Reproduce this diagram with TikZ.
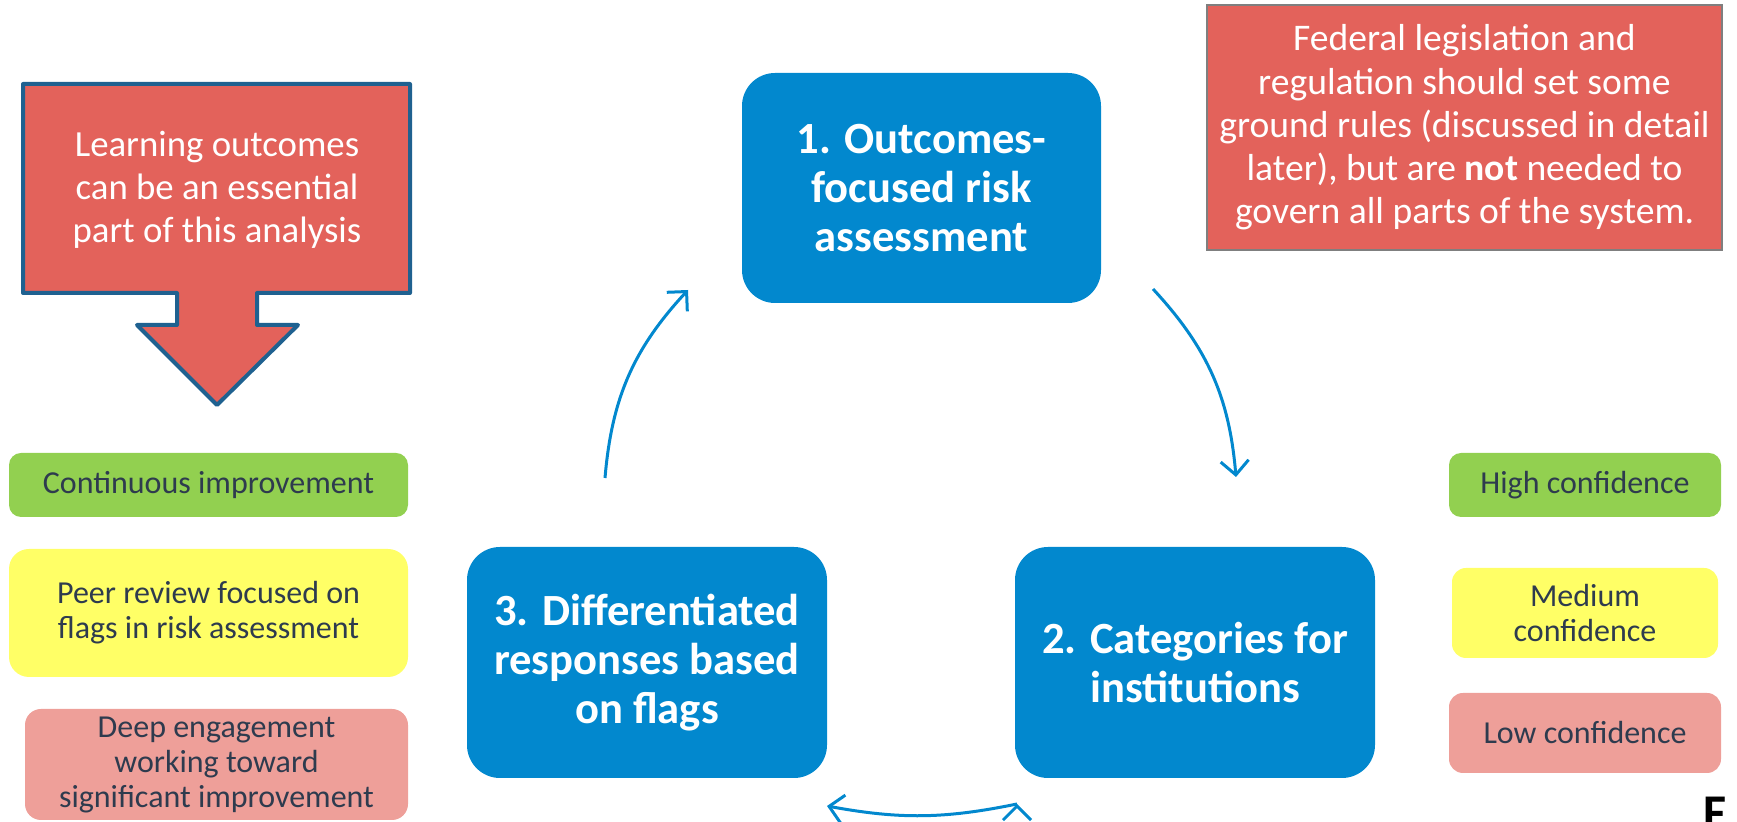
\documentclass[tikz,border=0pt]{standalone}
\usepackage{fontspec}
\setmainfont{Carlito}
\usepackage{xcolor}
\usetikzlibrary{arrows.meta,positioning}

\definecolor{stepblue}{HTML}{0288CE}
\definecolor{calloutred}{HTML}{E3625B}
\definecolor{calloutedge}{HTML}{1F6190}
\definecolor{fedgray}{HTML}{7F7F7F}
\definecolor{levelgreen}{HTML}{92D050}
\definecolor{levelyellow}{HTML}{FFFF66}
\definecolor{levelpink}{HTML}{EE9F99}
\definecolor{leveltext}{HTML}{2E3B4E}

\begin{document}
\begin{tikzpicture}[x=0.5pt,y=-0.5pt,
    stepbox/.style={rectangle,rounded corners=16.5pt,fill=stepblue,text=white,
      font=\fontsize{22.3}{24.5}\selectfont\bfseries,align=center,inner sep=0pt,
      minimum width=180pt,minimum height=115.5pt},
    levelbox/.style={rectangle,rounded corners=6pt,text=leveltext,
      font=\fontsize{16}{17.5}\selectfont,align=center,inner sep=0pt},
    cyclearrow/.style={draw=stepblue,line width=1.5pt,
      -{Straight Barb[length=7pt,width=14pt]}}]
    \useasboundingbox (0,0) rectangle (1737,822);

    % callout on the left
    \draw[fill=calloutred,draw=calloutedge,line width=2pt,line join=round]
      (23,84) -- (410,84) -- (410,293) -- (257,293) -- (257,325) -- (298,325)
      -- (217,405) -- (137,325) -- (177,325) -- (177,293) -- (23,293) -- cycle;
    \node[text=white,align=center,font=\fontsize{18.4}{21.5}\selectfont]
      (outcomes) at (217,190) {Learning outcomes\\can be an essential\\part of this analysis};

    \node[rectangle,draw=fedgray,fill=calloutred,text=white,align=center,
      line width=0.75pt,minimum width=257.5pt,minimum height=122.5pt,inner sep=0pt,
      font=\fontsize{18.8}{21.6}\selectfont]
      (federal) at (1464.5,127.5) {Federal legislation and\\regulation should set some\\ground rules (discussed in detail\\later), but are \textbf{not} needed to\\govern all parts of the system.};

    % the three steps
    \node[stepbox,minimum width=179.5pt,minimum height=115pt] (assess) at (921.5,188)
      {1. Outcomes-\\focused risk\\assessment};
    \node[stepbox] (categories) at (1195,662.5) {2. Categories for\\institutions};
    \node[stepbox] (responses)  at (647,662.5)  {3. Differentiated\\responses based\\on flags};

    % responses (left)
    \node[levelbox,fill=levelgreen,minimum width=199.5pt,minimum height=32pt]
      (continuous) at (208.5,485) {Continuous improvement};
    \node[levelbox,fill=levelyellow,minimum width=199.5pt,minimum height=64pt,rounded corners=10pt]
      (peer) at (208.5,613) {Peer review focused on\\flags in risk assessment};
    \node[levelbox,fill=levelpink,minimum width=191.5pt,minimum height=55.5pt,rounded corners=8pt]
      (deep) at (216.5,764.5) {Deep engagement\\working toward\\significant improvement};

    % confidence levels (right)
    \node[levelbox,fill=levelgreen,minimum width=136pt,minimum height=32pt]
      (high) at (1585,485) {High confidence};
    \node[levelbox,fill=levelyellow,minimum width=133pt,minimum height=45pt,rounded corners=7pt]
      (medium) at (1585,613) {Medium\\confidence};
    \node[levelbox,fill=levelpink,minimum width=136pt,minimum height=40pt,rounded corners=7pt]
      (low) at (1585,733) {Low confidence};

    \node[anchor=north west,inner sep=0pt,font=\fontsize{25}{25}\selectfont\bfseries]
      (logo) at (1703,797) {F};

    % cycle arrows
    \coordinate (fromresp)   at (605,478);
    \coordinate (toassess)   at (688,290);
    \coordinate (fromassess) at (1153,289);
    \coordinate (tocat)      at (1236,477);
    \coordinate (fromcat)    at (1017,804);
    \coordinate (toresp)     at (827,806);
    \path[cyclearrow]
    (fromresp)   edge [bend left=19] (toassess)
    (fromassess) edge [bend left=19] (tocat)
    (fromcat)    edge [bend left=11] (toresp);
\end{tikzpicture}
\end{document}
